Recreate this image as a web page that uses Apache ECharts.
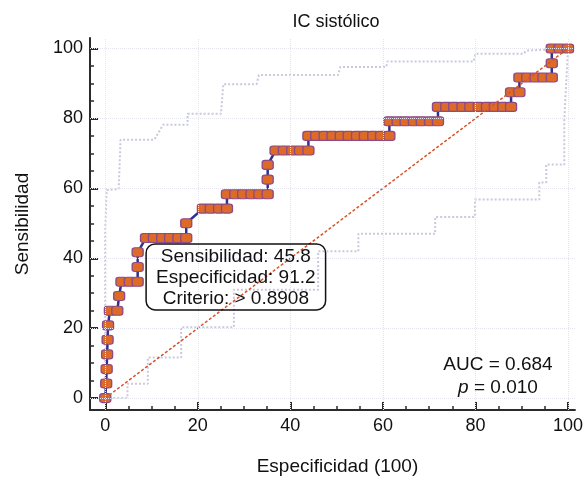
<!DOCTYPE html>
<html>
<head>
<meta charset="utf-8">
<script src="https://cdn.jsdelivr.net/npm/echarts@6/dist/echarts.min.js"></script>
<style>
  html, body { margin: 0; padding: 0; background: #fff; }
  #roc { width: 586px; height: 481px; }
</style>
</head>
<body>
<div id="roc"></div>
<script>
// curva ROC: 100-especificidad vs sensibilidad
const rocFpr = [
  0, 0.2, 0.3, 0.4, 0.5, 0.6,
  1.0, 2.6,
  3.0,
  3.5, 5.3, 7.0,
  7.0, 7.0,
  8.8, 10.5, 12.3, 14.0, 15.8, 17.5,
  17.5,
  21.1, 22.8, 24.6, 26.3,
  26.3, 28.1, 29.8, 31.6, 33.3, 35.1,
  35.1, 35.1,
  36.8, 38.6, 40.4, 42.1, 43.9,
  43.9, 45.6, 47.4, 49.1, 50.9, 52.6, 54.4, 56.1, 57.9, 59.6, 61.4,
  61.4, 63.2, 64.9, 66.7, 68.4, 70.2, 71.9,
  71.9, 73.7, 75.4, 77.2, 78.9, 80.7, 82.5, 84.2, 86.0, 87.7,
  87.7, 89.5,
  89.5, 91.2, 93.0, 94.7, 96.5,
  96.5,
  96.5, 98.2, 100
];
const rocSens = [
  0, 4.2, 8.3, 12.5, 16.7, 20.8,
  25, 25,
  29.2,
  33.3, 33.3, 33.3,
  37.5, 41.7,
  45.8, 45.8, 45.8, 45.8, 45.8, 45.8,
  50,
  54.2, 54.2, 54.2, 54.2,
  58.3, 58.3, 58.3, 58.3, 58.3, 58.3,
  62.5, 66.7,
  70.8, 70.8, 70.8, 70.8, 70.8,
  75, 75, 75, 75, 75, 75, 75, 75, 75, 75, 75,
  79.2, 79.2, 79.2, 79.2, 79.2, 79.2, 79.2,
  83.3, 83.3, 83.3, 83.3, 83.3, 83.3, 83.3, 83.3, 83.3, 83.3,
  87.5, 87.5,
  91.7, 91.7, 91.7, 91.7, 91.7,
  95.8,
  100, 100, 100
];

// intervalo de confianza 95%
const upperFpr  = [0, 0, 0.3, 2.9, 3.3, 10.6, 12.5, 17.8, 17.8, 25.0, 25.5, 32.7, 33.2, 50.3, 50.8, 60.7, 61.0, 79.6, 80.0, 90.4, 91.0, 100];
const upperSens = [0, 48.4, 59.5, 59.8, 73.9, 73.9, 78.2, 78.2, 81.3, 81.3, 89.8, 89.8, 92.4, 92.4, 94.7, 94.7, 96.3, 96.3, 98.5, 98.5, 99.4, 100];
const lowerFpr  = [0, 4.8, 4.8, 9.2, 9.2, 16.4, 16.4, 27.8, 27.8, 46.0, 46.0, 54.7, 54.7, 71.3, 71.3, 79.9, 79.9, 93.8, 93.8, 95.3, 95.3, 99.2, 99.2, 100];
const lowerSens = [0, 0, 4.1, 4.1, 11.6, 11.6, 20.3, 20.3, 31.0, 31.0, 42.0, 42.0, 47.0, 47.0, 51.8, 51.8, 56.8, 56.8, 61.7, 61.7, 66.8, 66.8, 79.6, 100];

const diagFpr = [0, 100];
const diagSens = [0, 100];

const majorTicks = [0, 20, 40, 60, 80, 100];
const minorTicks = [5, 10, 15, 25, 30, 35, 45, 50, 55, 65, 70, 75, 85, 90, 95];

const critFpr = 8.77, critSens = 45.83;
const critText = 'Sensibilidad: 45.8\nEspecificidad: 91.2\nCriterio: > 0.8908';
const aucText = 'AUC = 0.684\n{i|p} = 0.010';

const font = 'Liberation Sans, Arial, sans-serif';
const pairs = (xs, ys) => xs.map((x, i) => [x, ys[i]]);

var chartDom = document.getElementById('roc');
var myChart = echarts.init(chartDom);

const axisColor = '#2b2b2b';
function mainAxis(name, min, max, extra) {
  return Object.assign({
    type: 'value', min: min, max: max,
    name: name, nameLocation: 'middle',
    nameTextStyle: { fontFamily: font, fontSize: 19, color: '#111' },
    axisLine: { show: true, onZero: false, lineStyle: { color: axisColor, width: 2 } },
    axisTick: { show: true, inside: true, length: 8, customValues: majorTicks, lineStyle: { color: axisColor, width: 2 } },
    axisLabel: { customValues: majorTicks, fontFamily: font, fontSize: 18, color: '#111', margin: 7 },
    splitLine: { show: false }
  }, extra);
}
function minorAxis(min, max, position) {
  return {
    type: 'value', min: min, max: max, position: position,
    axisLine: { show: false, onZero: false },
    axisTick: { show: true, inside: true, length: 4, customValues: minorTicks, lineStyle: { color: axisColor, width: 1.5 } },
    axisLabel: { show: false },
    splitLine: { show: false }
  };
}

option = {
  animation: false,
  backgroundColor: '#fff',
  grid: { left: 90, right: 9, top: 38, bottom: 68 },
  xAxis: [
    mainAxis('Especificidad (100)', -3.3, 101.5, { position: 'bottom', nameGap: 47, nameTextStyle: { fontFamily: font, fontSize: 19, color: '#111', padding: [0, 0, 0, 10] } }),
    minorAxis(-3.3, 101.5, 'bottom')
  ],
  yAxis: [
    mainAxis('Sensibilidad', -3.4, 103, { position: 'left', nameGap: 58 }),
    minorAxis(-3.4, 103, 'left')
  ],
  graphic: [
    { type: 'text', x: 336, y: 13, style: { text: 'IC sistólico', fontFamily: font, fontSize: 18, fill: '#111', align: 'center' } },
    { type: 'text', x: 498, y: 353, z: 100, style: {
        text: aucText, fontFamily: font, fontSize: 19, lineHeight: 23, fill: '#111', align: 'center',
        rich: { i: { fontStyle: 'italic', fontFamily: font, fontSize: 19, lineHeight: 23 } }
    } }
  ],
  series: [
    {
      name: 'rejilla', type: 'line', data: [], silent: true, z: 0,
      markLine: {
        silent: true, symbol: 'none', label: { show: false },
        lineStyle: { type: 'dotted', color: '#e4e4ee', width: 1 },
        data: majorTicks.map(v => ({ xAxis: v })).concat(majorTicks.map(v => ({ yAxis: v })))
      }
    },
    {
      name: 'IC superior', type: 'line', data: pairs(upperFpr, upperSens), showSymbol: false, silent: true, z: 1,
      lineStyle: { color: '#c9c9de', width: 2, type: [2, 2] }
    },
    {
      name: 'IC inferior', type: 'line', data: pairs(lowerFpr, lowerSens), showSymbol: false, silent: true, z: 1,
      lineStyle: { color: '#c9c9de', width: 2, type: [2, 2] }
    },
    {
      name: 'ROC', type: 'line', data: pairs(rocFpr, rocSens), z: 3,
      symbol: 'roundRect', symbolSize: [11, 9], showAllSymbol: true,
      lineStyle: { color: '#2e3192', width: 2.5 },
      itemStyle: { color: '#dd6a27', borderColor: '#8c4a86', borderWidth: 1.2 }
    },
    {
      name: 'diagonal', type: 'line', data: pairs(diagFpr, diagSens), showSymbol: false, silent: true, z: 4,
      lineStyle: { color: '#d8522c', width: 1.5, type: [3, 2] }
    }
  ]
};

option && myChart.setOption(option);

// recuadro del criterio anclado al punto óptimo
const p = myChart.convertToPixel({ gridIndex: 0 }, [critFpr, critSens]);
myChart.setOption({
  graphic: [
    {}, {},
    { type: 'text', x: p[0] + 90, y: p[1] + 6, z: 100, style: {
        text: critText, fontFamily: font, fontSize: 19, lineHeight: 21, fill: '#111',
        align: 'center', verticalAlign: 'top',
        borderColor: '#111', borderWidth: 1.5, borderRadius: 9, padding: [2, 10, 1, 10]
    } }
  ]
});
</script>
</body>
</html>
